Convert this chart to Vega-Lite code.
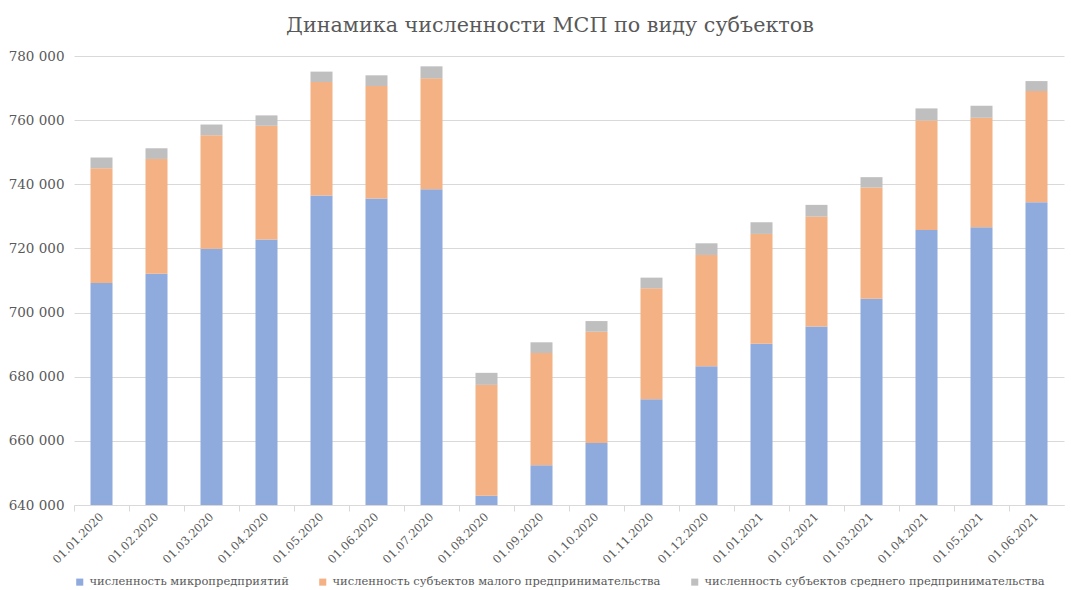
{
  "$schema": "https://vega.github.io/schema/vega-lite/v6.json",
  "width": 990,
  "height": 449,
  "padding": {"left": 8, "top": 15, "right": 8, "bottom": 5},
  "background": "white",
  "title": {
    "text": "Динамика численности МСП по виду субъектов",
    "font": "DejaVu Serif",
    "fontSize": 20.7,
    "fontWeight": "normal",
    "color": "#595959",
    "offset": 12,
    "dx": -19,
    "anchor": "middle"
  },
  "data": {
    "values": [
      {"date": "01.01.2020", "type": "численность микропредприятий", "o": 0, "value": 709200},
      {"date": "01.01.2020", "type": "численность субъектов малого предпринимательства", "o": 1, "value": 35800},
      {"date": "01.01.2020", "type": "численность субъектов среднего предпринимательства", "o": 2, "value": 3350},
      {"date": "01.02.2020", "type": "численность микропредприятий", "o": 0, "value": 712100},
      {"date": "01.02.2020", "type": "численность субъектов малого предпринимательства", "o": 1, "value": 35800},
      {"date": "01.02.2020", "type": "численность субъектов среднего предпринимательства", "o": 2, "value": 3330},
      {"date": "01.03.2020", "type": "численность микропредприятий", "o": 0, "value": 719900},
      {"date": "01.03.2020", "type": "численность субъектов малого предпринимательства", "o": 1, "value": 35400},
      {"date": "01.03.2020", "type": "численность субъектов среднего предпринимательства", "o": 2, "value": 3330},
      {"date": "01.04.2020", "type": "численность микропредприятий", "o": 0, "value": 722750},
      {"date": "01.04.2020", "type": "численность субъектов малого предпринимательства", "o": 1, "value": 35500},
      {"date": "01.04.2020", "type": "численность субъектов среднего предпринимательства", "o": 2, "value": 3230},
      {"date": "01.05.2020", "type": "численность микропредприятий", "o": 0, "value": 736500},
      {"date": "01.05.2020", "type": "численность субъектов малого предпринимательства", "o": 1, "value": 35400},
      {"date": "01.05.2020", "type": "численность субъектов среднего предпринимательства", "o": 2, "value": 3230},
      {"date": "01.06.2020", "type": "численность микропредприятий", "o": 0, "value": 735550},
      {"date": "01.06.2020", "type": "численность субъектов малого предпринимательства", "o": 1, "value": 35100},
      {"date": "01.06.2020", "type": "численность субъектов среднего предпринимательства", "o": 2, "value": 3330},
      {"date": "01.07.2020", "type": "численность микропредприятий", "o": 0, "value": 738470},
      {"date": "01.07.2020", "type": "численность субъектов малого предпринимательства", "o": 1, "value": 34560},
      {"date": "01.07.2020", "type": "численность субъектов среднего предпринимательства", "o": 2, "value": 3750},
      {"date": "01.08.2020", "type": "численность микропредприятий", "o": 0, "value": 642900},
      {"date": "01.08.2020", "type": "численность субъектов малого предпринимательства", "o": 1, "value": 34560},
      {"date": "01.08.2020", "type": "численность субъектов среднего предпринимательства", "o": 2, "value": 3750},
      {"date": "01.09.2020", "type": "численность микропредприятий", "o": 0, "value": 652400},
      {"date": "01.09.2020", "type": "численность субъектов малого предпринимательства", "o": 1, "value": 35000},
      {"date": "01.09.2020", "type": "численность субъектов среднего предпринимательства", "o": 2, "value": 3330},
      {"date": "01.10.2020", "type": "численность микропредприятий", "o": 0, "value": 659360},
      {"date": "01.10.2020", "type": "численность субъектов малого предпринимательства", "o": 1, "value": 34660},
      {"date": "01.10.2020", "type": "численность субъектов среднего предпринимательства", "o": 2, "value": 3330},
      {"date": "01.11.2020", "type": "численность микропредприятий", "o": 0, "value": 673000},
      {"date": "01.11.2020", "type": "численность субъектов малого предпринимательства", "o": 1, "value": 34560},
      {"date": "01.11.2020", "type": "численность субъектов среднего предпринимательства", "o": 2, "value": 3330},
      {"date": "01.12.2020", "type": "численность микропредприятий", "o": 0, "value": 683300},
      {"date": "01.12.2020", "type": "численность субъектов малого предпринимательства", "o": 1, "value": 34660},
      {"date": "01.12.2020", "type": "численность субъектов среднего предпринимательства", "o": 2, "value": 3640},
      {"date": "01.01.2021", "type": "численность микропредприятий", "o": 0, "value": 690270},
      {"date": "01.01.2021", "type": "численность субъектов малого предпринимательства", "o": 1, "value": 34250},
      {"date": "01.01.2021", "type": "численность субъектов среднего предпринимательства", "o": 2, "value": 3640},
      {"date": "01.02.2021", "type": "численность микропредприятий", "o": 0, "value": 695690},
      {"date": "01.02.2021", "type": "численность субъектов малого предпринимательства", "o": 1, "value": 34250},
      {"date": "01.02.2021", "type": "численность субъектов среднего предпринимательства", "o": 2, "value": 3640},
      {"date": "01.03.2021", "type": "численность микропредприятий", "o": 0, "value": 704330},
      {"date": "01.03.2021", "type": "численность субъектов малого предпринимательства", "o": 1, "value": 34660},
      {"date": "01.03.2021", "type": "численность субъектов среднего предпринимательства", "o": 2, "value": 3230},
      {"date": "01.04.2021", "type": "численность микропредприятий", "o": 0, "value": 725770},
      {"date": "01.04.2021", "type": "численность субъектов малого предпринимательства", "o": 1, "value": 34140},
      {"date": "01.04.2021", "type": "численность субъектов среднего предпринимательства", "o": 2, "value": 3750},
      {"date": "01.05.2021", "type": "численность микропредприятий", "o": 0, "value": 726600},
      {"date": "01.05.2021", "type": "численность субъектов малого предпринимательства", "o": 1, "value": 34140},
      {"date": "01.05.2021", "type": "численность субъектов среднего предпринимательства", "o": 2, "value": 3750},
      {"date": "01.06.2021", "type": "численность микропредприятий", "o": 0, "value": 734400},
      {"date": "01.06.2021", "type": "численность субъектов малого предпринимательства", "o": 1, "value": 34660},
      {"date": "01.06.2021", "type": "численность субъектов среднего предпринимательства", "o": 2, "value": 3120}
    ]
  },
  "mark": {"type": "bar", "clip": true},
  "encoding": {
    "x": {
      "field": "date",
      "type": "ordinal",
      "sort": null,
      "scale": {"paddingInner": 0.6, "paddingOuter": 0.3},
      "axis": {
        "title": null,
        "labelAngle": -45,
        "labelAlign": "right",
        "labelBaseline": "middle",
        "labelFont": "DejaVu Serif",
        "labelFontSize": 11.5,
        "labelColor": "#595959",
        "labelPadding": 4,
        "domainColor": "#d9d9d9",
        "domainWidth": 1,
        "tickColor": "#d9d9d9",
        "tickSize": 6,
        "tickOffset": -27.5,
        "labelOffset": 27.5
      }
    },
    "y": {
      "field": "value",
      "type": "quantitative",
      "stack": "zero",
      "scale": {"domain": [640000, 780000], "zero": false, "nice": false},
      "axis": {
        "title": null,
        "values": [640000, 660000, 680000, 700000, 720000, 740000, 760000, 780000],
        "labelExpr": "replace(format(datum.value, ','), ',', ' ')",
        "labelFont": "DejaVu Serif",
        "labelFontSize": 13.5,
        "labelColor": "#595959",
        "labelPadding": 10,
        "domain": false,
        "ticks": false,
        "gridColor": "#d9d9d9",
        "gridWidth": 1
      }
    },
    "color": {
      "field": "type",
      "type": "nominal",
      "sort": ["численность микропредприятий", "численность субъектов малого предпринимательства", "численность субъектов среднего предпринимательства"],
      "scale": {
        "domain": ["численность микропредприятий", "численность субъектов малого предпринимательства", "численность субъектов среднего предпринимательства"],
        "range": ["#8faadc", "#f4b183", "#bfbfbf"]
      },
      "legend": {
        "title": null,
        "orient": "bottom",
        "direction": "horizontal",
        "symbolType": "square",
        "symbolSize": 50,
        "symbolStrokeWidth": 0,
        "labelFont": "DejaVu Serif",
        "labelFontSize": 11.5,
        "labelColor": "#595959",
        "labelLimit": 0,
        "columnPadding": 28,
        "offset": 10
      }
    },
    "order": {"field": "o", "type": "quantitative"}
  },
  "config": {"view": {"stroke": null}}
}
